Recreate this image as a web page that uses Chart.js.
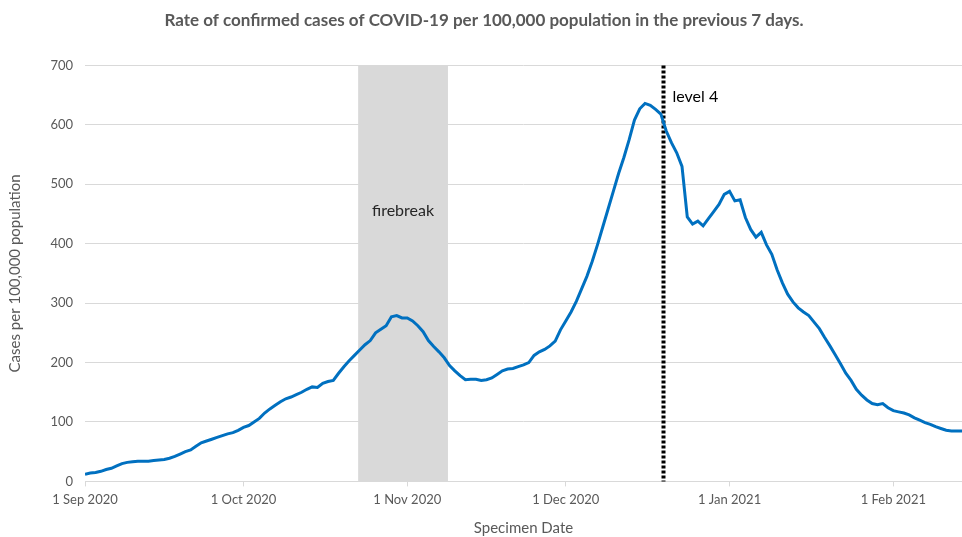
<!DOCTYPE html>
<html>
<head>
<meta charset="utf-8">
<script src="https://cdn.jsdelivr.net/npm/chart.js@4"></script>
<style>
  html, body { margin: 0; padding: 0; background: #fff; }
  #wrap { width: 962px; height: 537px; }
</style>
</head>
<body>
<div id="wrap"><canvas id="chart"></canvas></div>
<script>
// days since 1 Sep 2020, one value per day
const rateSep = [12, 14, 15, 17, 20, 22, 26, 30, 32, 33, 34, 34, 34, 35, 36, 37, 39, 42, 46, 50,
  53, 59, 65, 68, 71, 74, 77, 80, 82, 86];
const rateOct = [91, 94, 100, 106, 115, 122, 128, 134, 139, 142, 146, 150, 155, 159, 158, 165,
  168, 170, 182, 193, 203, 212, 221, 230, 237, 250, 256, 262, 277, 279, 275];
const rateNov = [275, 270, 262, 252, 237, 227, 218, 208, 195, 186, 178, 171, 172, 172, 170, 171,
  174, 180, 186, 189, 190, 193, 196, 200, 212, 218, 222, 228, 236, 255];
const rateDec = [270, 285, 303, 324, 345, 370, 398, 428, 458, 488, 518, 545, 575, 608, 627, 636,
  633, 626, 618, 590, 570, 553, 530, 445, 433, 438, 430, 442, 454, 466, 483];
const rateJan = [488, 472, 474, 444, 424, 411, 419, 398, 382, 356, 334, 315, 302, 292, 285, 279,
  268, 257, 242, 228, 213, 198, 182, 170, 155, 145, 137, 131, 129, 131, 124];
const rateFeb = [119, 117, 115, 112, 107, 103, 99, 96, 92, 89, 86, 85, 85, 85];

const rates = [...rateSep, ...rateOct, ...rateNov, ...rateDec, ...rateJan, ...rateFeb];

const monthTickDays = [0, 30, 61, 91, 122, 153];
const monthTickLabels = ['1 Sep 2020', '1 Oct 2020', '1 Nov 2020', '1 Dec 2020', '1 Jan 2021', '1 Feb 2021'];

const firebreakDays = [51.7, 68.7];
const firebreakLabel = 'firebreak';
const level4Day = 109.5;
const level4Label = 'level 4';

const points = rates.map((v, i) => ({ x: i, y: v }));

const FONT = 'Lato, "DejaVu Sans", sans-serif';
const GREY = '#595959';

// grey band, dotted line and their labels
const marks = {
  id: 'marks',
  beforeDatasetsDraw(chart) {
    const { ctx, chartArea, scales } = chart;
    const x = scales.x, y = scales.y;
    const x0 = x.getPixelForValue(firebreakDays[0]);
    const x1 = x.getPixelForValue(firebreakDays[1]);
    ctx.save();
    ctx.fillStyle = '#d9d9d9';
    ctx.fillRect(x0, chartArea.top, x1 - x0, chartArea.bottom - chartArea.top);
    ctx.fillStyle = '#262626';
    ctx.font = '16px ' + FONT;
    ctx.textAlign = 'center';
    ctx.textBaseline = 'middle';
    ctx.fillText(firebreakLabel, (x0 + x1) / 2, y.getPixelForValue(456));

    const lx = x.getPixelForValue(level4Day);
    ctx.strokeStyle = '#000';
    ctx.lineWidth = 4;
    ctx.setLineDash([3, 2]);
    ctx.beginPath();
    ctx.moveTo(lx, chartArea.top);
    ctx.lineTo(lx, chartArea.bottom);
    ctx.stroke();
    ctx.setLineDash([]);
    ctx.fillStyle = '#000';
    ctx.textAlign = 'left';
    ctx.fillText(level4Label, lx + 9, y.getPixelForValue(647));
    ctx.restore();
  }
};

new Chart(document.getElementById('chart'), {
  type: 'line',
  data: {
    datasets: [{
      data: points,
      borderColor: '#0070c0',
      borderWidth: 3,
      pointRadius: 0,
      tension: 0
    }]
  },
  options: {
    responsive: true,
    maintainAspectRatio: false,
    animation: false,
    layout: { padding: { top: 0, right: 0, bottom: 0, left: 6 } },
    plugins: {
      legend: { display: false },
      tooltip: { enabled: false },
      title: {
        display: true,
        text: 'Rate of confirmed cases of COVID-19 per 100,000 population in the previous 7 days.',
        color: GREY,
        font: { family: FONT, size: 17, weight: 'bold' },
        padding: { top: 10, bottom: 35 }
      }
    },
    scales: {
      x: {
        type: 'linear',
        min: 0,
        max: 166,
        afterBuildTicks(axis) {
          axis.ticks = monthTickDays.map(v => ({ value: v }));
        },
        ticks: {
          color: GREY,
          font: { family: FONT, size: 13 },
          maxRotation: 0,
          autoSkip: false,
          padding: 6,
          callback(value) {
            const i = monthTickDays.indexOf(value);
            return i >= 0 ? monthTickLabels[i] : '';
          }
        },
        grid: { drawOnChartArea: false, drawTicks: true, tickLength: 5, color: '#d9d9d9' },
        border: { color: '#d9d9d9' },
        title: {
          display: true,
          text: 'Specimen Date',
          color: GREY,
          font: { family: FONT, size: 15 },
          padding: { top: 5, bottom: 0 }
        }
      },
      y: {
        min: 0,
        max: 700,
        afterFit(axis) { axis.width = 79; },
        ticks: {
          stepSize: 100,
          color: GREY,
          font: { family: FONT, size: 13 },
          padding: 12
        },
        grid: { color: '#d9d9d9', drawTicks: false },
        border: { display: false },
        title: {
          display: true,
          text: 'Cases per 100,000 population',
          color: GREY,
          font: { family: FONT, size: 15 },
          padding: { top: 0, bottom: 6 }
        }
      }
    }
  },
  plugins: [marks]
});
</script>
</body>
</html>
